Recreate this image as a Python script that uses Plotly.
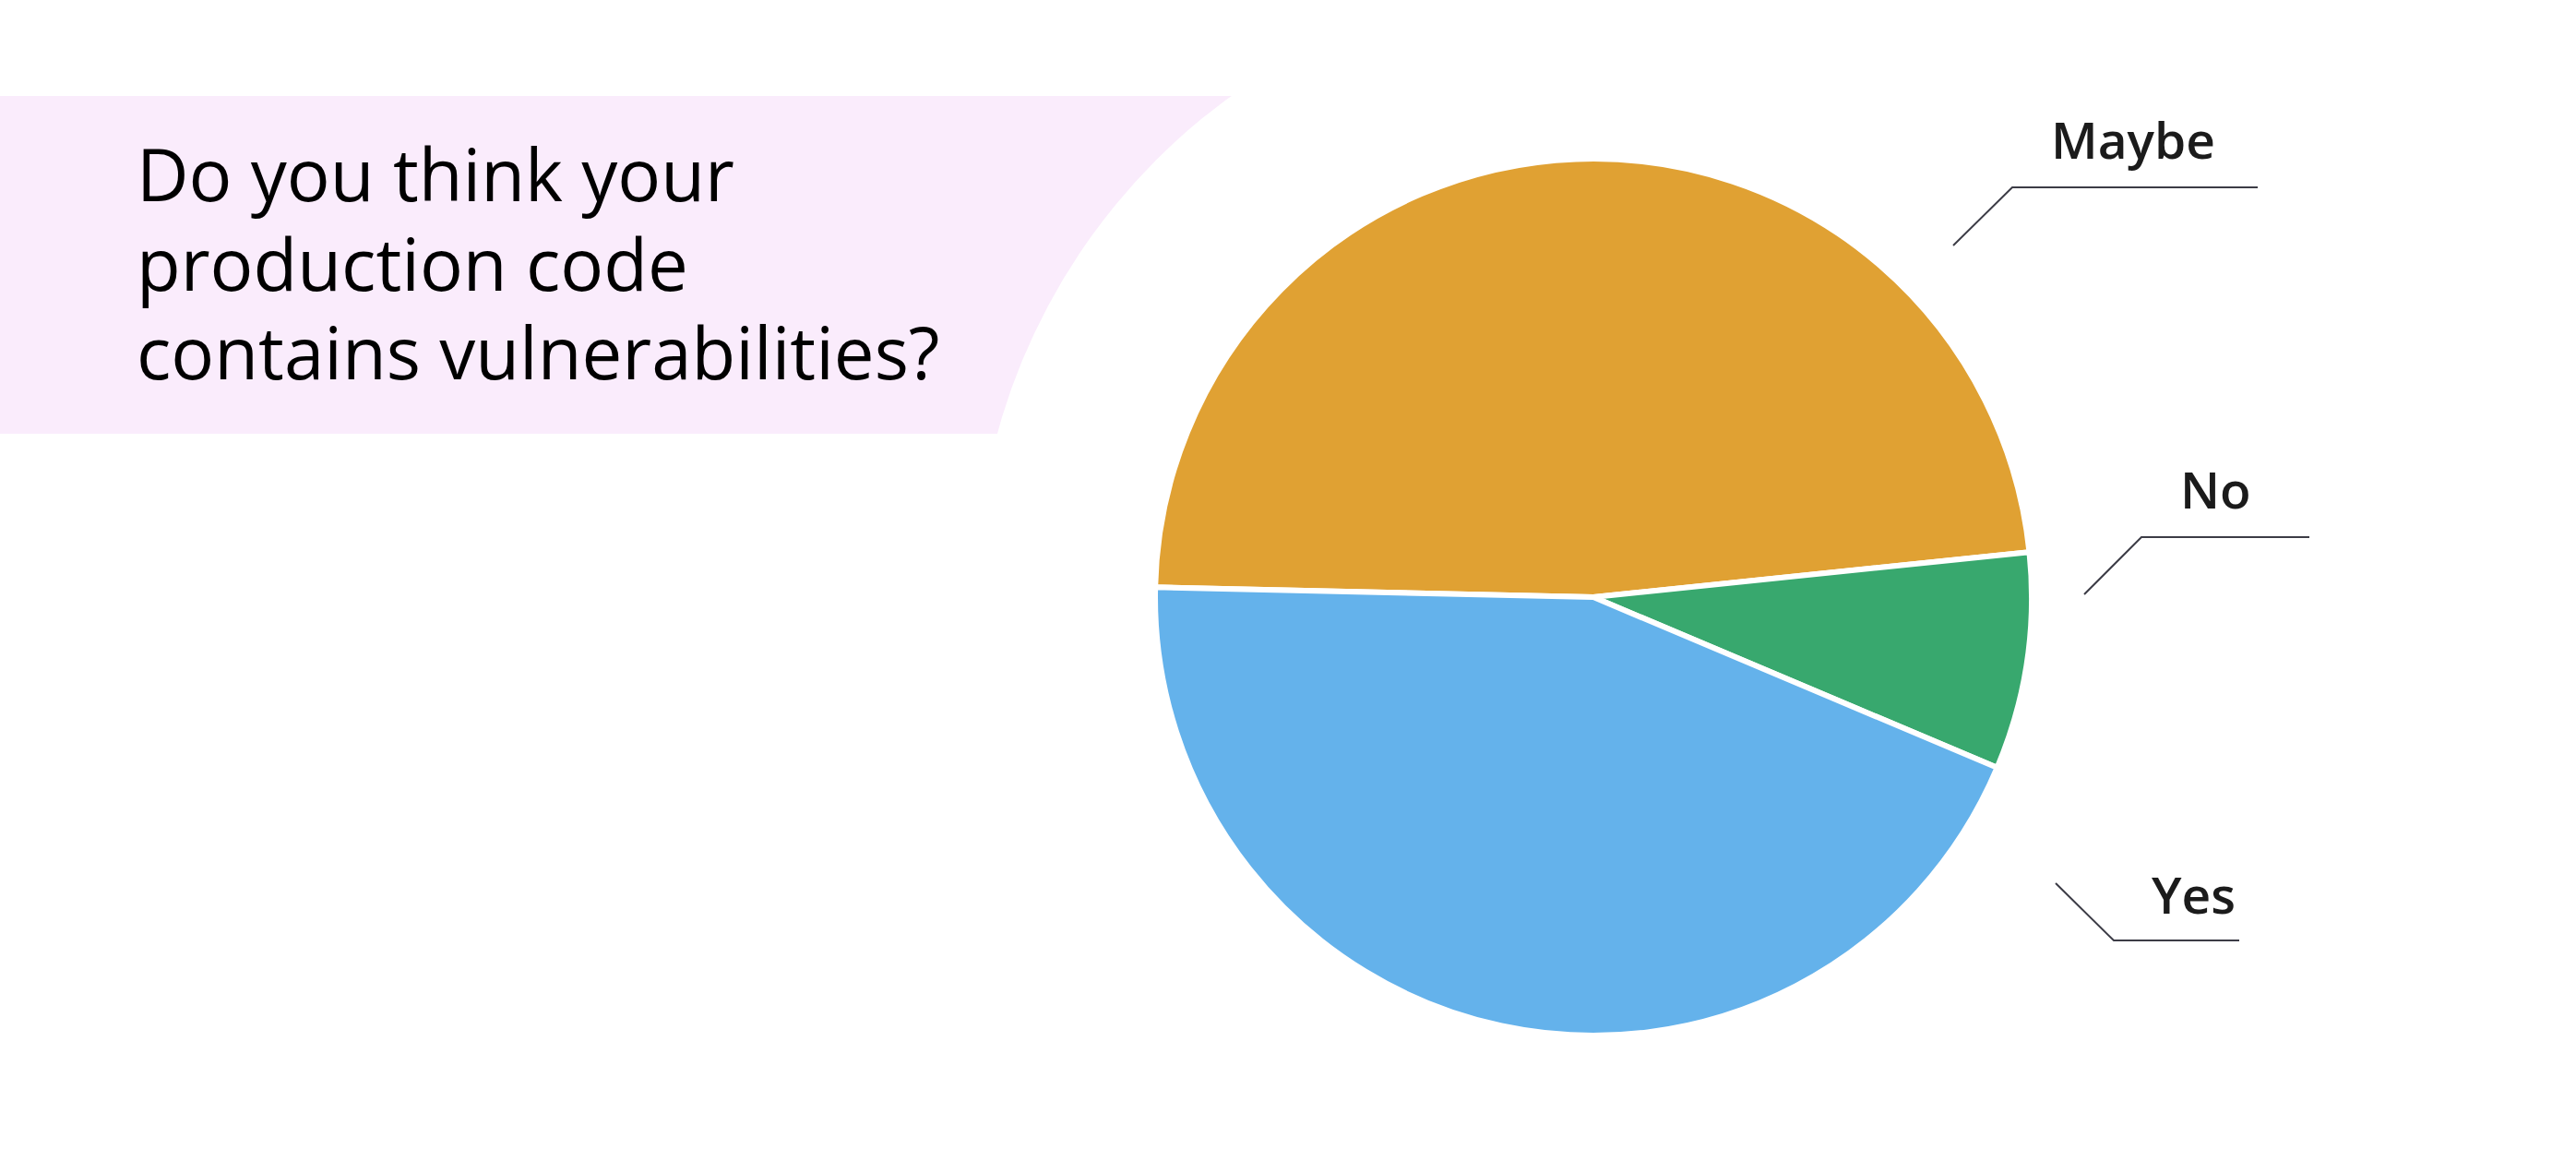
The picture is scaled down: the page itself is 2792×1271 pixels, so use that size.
import plotly.graph_objects as go

W, H = 2792, 1271

# данные опроса
answers = ["Maybe", "No", "Yes"]
shares = [48, 8, 44]
slice_colors = ["#E0A133", "#38A86E", "#64B2EB"]

question_lines = ["Do you think your", "production code", "contains vulnerabilities?"]

# геометрия (пиксели страницы)
PIE_CX, PIE_CY, PIE_R = 1727, 647, 475
CUT_R = 670
TITLE_X = 146
TITLE_MID_Y = [188, 285, 381]

# подписи с выносками: текст, центр текста, ломаная выноски
callouts = [
    ("Maybe", (2312, 151), [(2117, 266), (2181, 203), (2447, 203)]),
    ("No", (2401, 529), [(2259, 644), (2321, 582), (2503, 582)]),
    ("Yes", (2377, 968), [(2228, 957), (2291, 1019), (2427, 1019)]),
]


def px(x, y):
    """Пиксели -> доли paper."""
    return x / W, 1 - y / H


fig = go.Figure()

fig.add_trace(go.Pie(
    labels=answers,
    values=shares,
    sort=False,
    direction="clockwise",
    rotation=271.3,
    marker=dict(colors=slice_colors, line=dict(color="white", width=6)),
    textinfo="none",
    hoverinfo="label+percent",
    showlegend=False,
    domain=dict(
        x=[(PIE_CX - PIE_R) / W, (PIE_CX + PIE_R) / W],
        y=[(H - PIE_CY - PIE_R) / H, (H - PIE_CY + PIE_R) / H],
    ),
))

shapes = [
    # розовая плашка под вопросом
    dict(type="rect", xref="paper", yref="paper", layer="below",
         x0=0, x1=1500 / W, y0=px(0, 470)[1], y1=px(0, 104)[1],
         fillcolor="#FAECFC", line=dict(width=0)),
    # белый круг, вырезающий дугу
    dict(type="circle", xref="paper", yref="paper", layer="below",
         xsizemode="pixel", ysizemode="pixel",
         xanchor=PIE_CX / W, yanchor=1 - PIE_CY / H,
         x0=-CUT_R, x1=CUT_R, y0=-CUT_R, y1=CUT_R,
         fillcolor="white", line=dict(width=0)),
]

annotations = []
for line, my in zip(question_lines, TITLE_MID_Y):
    annotations.append(dict(
        text=line, xref="paper", yref="paper",
        x=px(TITLE_X, my)[0], y=px(TITLE_X, my)[1],
        xanchor="left", yanchor="middle", align="left", showarrow=False,
        font=dict(family="Open Sans", size=78, color="#000000"),
    ))

for name, (tx, ty), pts in callouts:
    path = "M " + " L ".join(f"{px(x, y)[0]},{px(x, y)[1]}" for x, y in pts)
    shapes.append(dict(type="path", xref="paper", yref="paper", path=path,
                       line=dict(color="#3C3C46", width=2)))
    annotations.append(dict(
        text=name, xref="paper", yref="paper",
        x=px(tx, ty)[0], y=px(tx, ty)[1], xanchor="center", yanchor="middle",
        showarrow=False,
        font=dict(family="Open Sans", size=55, color="#1B1B1B", weight=600),
    ))

fig.update_layout(
    width=W,
    height=H,
    margin=dict(l=0, r=0, t=0, b=0),
    paper_bgcolor="white",
    plot_bgcolor="white",
    shapes=shapes,
    annotations=annotations,
)

# убираем стандартный отступ body, чтобы график встал в угол окна
fig.write_html(
    "out.html",
    config={"displayModeBar": False},
    post_script="document.body.style.margin='0px';",
)
